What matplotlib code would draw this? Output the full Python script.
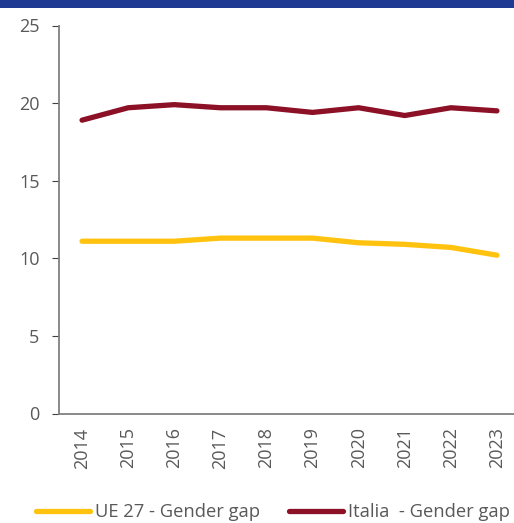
import matplotlib
matplotlib.use("Agg")
import matplotlib.pyplot as plt
from matplotlib.patches import Rectangle

years = ["2014", "2015", "2016", "2017", "2018", "2019", "2020", "2021", "2022", "2023"]
ue27_gap = [11.1, 11.1, 11.1, 11.3, 11.3, 11.3, 11.0, 10.9, 10.7, 10.2]
italia_gap = [18.9, 19.7, 19.9, 19.7, 19.7, 19.4, 19.7, 19.2, 19.7, 19.5]
series_labels = ["UE 27 - Gender gap", "Italia  - Gender gap"]
y_ticks = [0, 5, 10, 15, 20, 25]

plt.rcParams['font.family'] = ['Open Sans', 'DejaVu Sans']

W, H = 514, 523
fig = plt.figure(figsize=(W / 100, H / 100), dpi=100)
fig.patch.set_facecolor("white")

# top banner strip
fig.patches.append(Rectangle((0, 1 - 8 / H), 1, 8 / H, transform=fig.transFigure,
                             facecolor="#1F3A93", edgecolor="none", zorder=0))

left = 59 / W
right = 520 / W
bottom = 1 - 413.5 / H
top = 1 - 25.5 / H
ax = fig.add_axes([left, bottom, right - left, top - bottom])

x = list(range(len(years)))
l1, = ax.plot(x, ue27_gap, color="#FFC20E", lw=3.8, solid_capstyle="round",
              solid_joinstyle="round", label=series_labels[0])
l2, = ax.plot(x, italia_gap, color="#8C1026", lw=3.8, solid_capstyle="round",
              solid_joinstyle="round", label=series_labels[1])

ax.set_xlim(-0.5, len(years) - 0.5)
ax.set_ylim(0, 25)
ax.set_yticks(y_ticks)
ax.set_xticks(x)
ax.set_xticklabels(years, rotation=90)

for s in ["top", "right"]:
    ax.spines[s].set_visible(False)
for s in ["left", "bottom"]:
    ax.spines[s].set_color("#808080")
    ax.spines[s].set_linewidth(1.3)

fs = 13
ax.tick_params(axis="y", length=5, width=0.8, color="#404040", labelsize=fs,
               labelcolor="#595959", pad=9)
ax.tick_params(axis="x", length=0, labelsize=fs, labelcolor="#595959", pad=10)

fig.legend(handles=[l1, l2], labels=series_labels, loc="center left",
           bbox_to_anchor=(38 / W - 0.004, 1 - 512 / H), ncol=2, frameon=False,
           fontsize=13.2, labelcolor="#595959", handlelength=2.95, handletextpad=0.25,
           columnspacing=1.6, borderaxespad=0, borderpad=0)

fig.savefig("out.png", dpi=100, facecolor="white")
